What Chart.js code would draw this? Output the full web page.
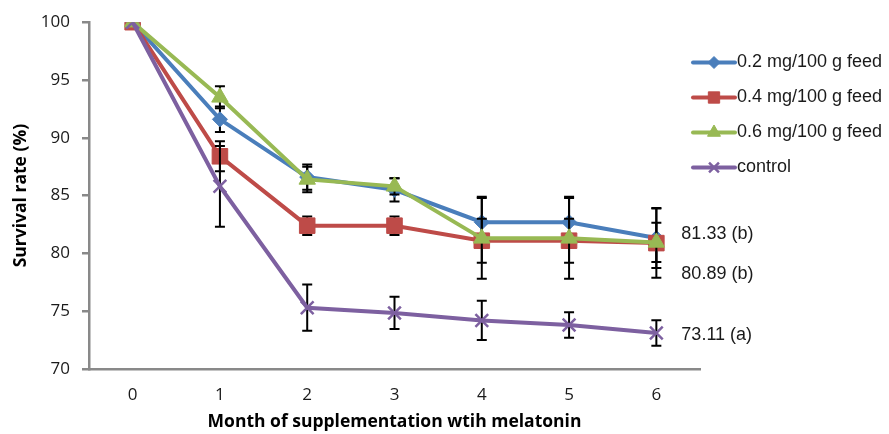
<!DOCTYPE html>
<html>
<head>
<meta charset="utf-8">
<script src="https://cdn.jsdelivr.net/npm/chart.js@4.4.1/dist/chart.umd.min.js"></script>
<style>
html,body{margin:0;padding:0;background:#fff;}
#wrap{width:889px;height:434px;position:relative;}
</style>
</head>
<body>
<div id="wrap"><canvas id="c" width="889" height="434"></canvas></div>
<script>
const months = ['0', '1', '2', '3', '4', '5', '6'];
const seriesNames = ['0.2 mg/100 g feed', '0.4 mg/100 g feed', '0.6 mg/100 g feed', 'control'];
const dose02 = [100, 91.6, 86.6, 85.5, 82.7, 82.7, 81.33];
const dose04 = [100, 88.4, 82.4, 82.4, 81.1, 81.1, 80.89];
const dose06 = [100, 93.5, 86.4, 85.8, 81.3, 81.3, 80.95];
const control = [100, 85.8, 75.3, 74.85, 74.2, 73.8, 73.11];
const err02 = [0, 1.1, 1.1, 1.0, 2.2, 2.2, 2.6];
const err04 = [0, 1.3, 0.8, 0.8, 1.9, 1.9, 3.0];
const err06 = [0, 0.95, 1.1, 0.7, 3.5, 3.5, 1.7];
const errCtrl = [0, 3.5, 2.0, 1.4, 1.7, 1.1, 1.1];
const endLabels = ['81.33 (b)', '80.89 (b)', '73.11 (a)'];
const endValues = [81.33, 80.89, 73.11];
const yTicks = [70, 75, 80, 85, 90, 95, 100];

const endLabelOffsets = [-4, 31, 2];
const colors = ['#4A7EBB', '#BE4B48', '#98B954', '#7D60A0'];
const styles = ['rectRot', 'rect', 'triangle', 'crossRot'];
const radii = [7.5, 11, 9.5, 9];
const legendRadii = [6, 8, 7.5, 7];
const values = [dose02, dose04, dose06, control];
const errors = [err02, err04, err06, errCtrl];

const datasets = values.map((v, i) => ({
  label: seriesNames[i],
  data: v,
  errors: errors[i],
  borderColor: colors[i],
  backgroundColor: colors[i],
  borderWidth: 4,
  pointStyle: styles[i],
  pointRadius: radii[i],
  pointHoverRadius: radii[i],
  pointBackgroundColor: colors[i],
  pointBorderColor: colors[i],
  pointBorderWidth: i === 3 ? 2.5 : 1,
  tension: 0,
  order: 4 - i
}));

const errorBarPlugin = {
  id: 'errorBars',
  beforeDatasetDraw(chart, args) {
    const ds = chart.data.datasets[args.index];
    const meta = args.meta;
    const y = chart.scales.y;
    const ctx = chart.ctx;
    ctx.save();
    ctx.strokeStyle = '#000';
    ctx.lineWidth = 2;
    meta.data.forEach((pt, j) => {
      const e = ds.errors[j];
      if (!e) return;
      const v = ds.data[j];
      const yt = y.getPixelForValue(v + e);
      const yb = y.getPixelForValue(v - e);
      const x = pt.x;
      ctx.beginPath();
      ctx.moveTo(x, yt); ctx.lineTo(x, yb);
      ctx.moveTo(x - 5, yt); ctx.lineTo(x + 5, yt);
      ctx.moveTo(x - 5, yb); ctx.lineTo(x + 5, yb);
      ctx.stroke();
    });
    ctx.restore();
  }
};

const extrasPlugin = {
  id: 'extras',
  afterDraw(chart) {
    const ctx = chart.ctx;
    const xs = chart.scales.x, ys = chart.scales.y;
    ctx.save();
    // end labels
    ctx.fillStyle = '#1a1a1a';
    ctx.font = '18px "Liberation Sans", Arial, sans-serif';
    ctx.textBaseline = 'middle';
    ctx.textAlign = 'left';
    const lx = xs.getPixelForValue(months.length - 1) + 25;
    endLabels.forEach((t, i) => {
      ctx.fillText(t, lx, ys.getPixelForValue(endValues[i]) + endLabelOffsets[i]);
    });
    // legend
    const x0 = 693, x1 = 735;
    const legendY = [62.5, 97.5, 132.5, 167.5];
    chart.data.datasets.forEach((ds, i) => {
      const yy = legendY[i];
      ctx.strokeStyle = ds.borderColor;
      ctx.lineWidth = 4;
      ctx.lineCap = 'round';
      ctx.beginPath(); ctx.moveTo(x0, yy); ctx.lineTo(x1, yy); ctx.stroke();
      ctx.lineCap = 'butt';
      ctx.fillStyle = ds.backgroundColor;
      ctx.strokeStyle = ds.borderColor;
      ctx.lineWidth = ds.pointBorderWidth;
      Chart.helpers.drawPoint(ctx, {
        pointStyle: ds.pointStyle,
        radius: legendRadii[i],
        borderWidth: ds.pointBorderWidth,
        rotation: 0
      }, (x0 + x1) / 2, yy);
      ctx.fillStyle = '#1a1a1a';
      ctx.font = '18px "Liberation Sans", Arial, sans-serif';
      ctx.textAlign = 'left';
      ctx.textBaseline = 'middle';
      ctx.fillText(ds.label, x1 + 2, yy);
    });
    ctx.restore();
  }
};

new Chart(document.getElementById('c'), {
  type: 'line',
  data: { labels: months, datasets: datasets },
  plugins: [errorBarPlugin, extrasPlugin],
  options: {
    responsive: false,
    animation: false,
    layout: { padding: { top: 22, right: 189, left: 0, bottom: 0 } },
    plugins: { legend: { display: false }, tooltip: { enabled: false } },
    scales: {
      x: {
        type: 'category',
        offset: true,
        grid: { display: false, drawTicks: false },
        border: { display: true, color: '#898989', width: 2.5 },
        ticks: { color: '#1a1a1a', padding: 16, font: { family: '"Open Sans", sans-serif', size: 17 } },
        title: { display: true, text: 'Month of supplementation wtih melatonin', color: '#000',
          font: { family: '"Open Sans", sans-serif', size: 17.5, weight: 'bold' }, padding: { top: 0, bottom: 1 } },
        afterFit(s) { s.height = 65; }
      },
      y: {
        min: 70, max: 100,
        afterBuildTicks(s) { s.ticks = yTicks.map(v => ({ value: v })); },
        grid: { drawOnChartArea: false, drawTicks: true, tickLength: 7, color: '#898989', lineWidth: 2.5 },
        border: { display: true, color: '#898989', width: 2.5 },
        ticks: { color: '#1a1a1a', padding: 12, font: { family: '"Open Sans", sans-serif', size: 17 } },
        title: { display: true, text: 'Survival rate (%)', color: '#000',
          font: { family: '"Open Sans", sans-serif', size: 17.5, weight: 'bold' }, padding: { top: 11, bottom: 0 } },
        afterFit(s) { s.width = 89; }
      }
    }
  }
});
</script>
</body>
</html>
